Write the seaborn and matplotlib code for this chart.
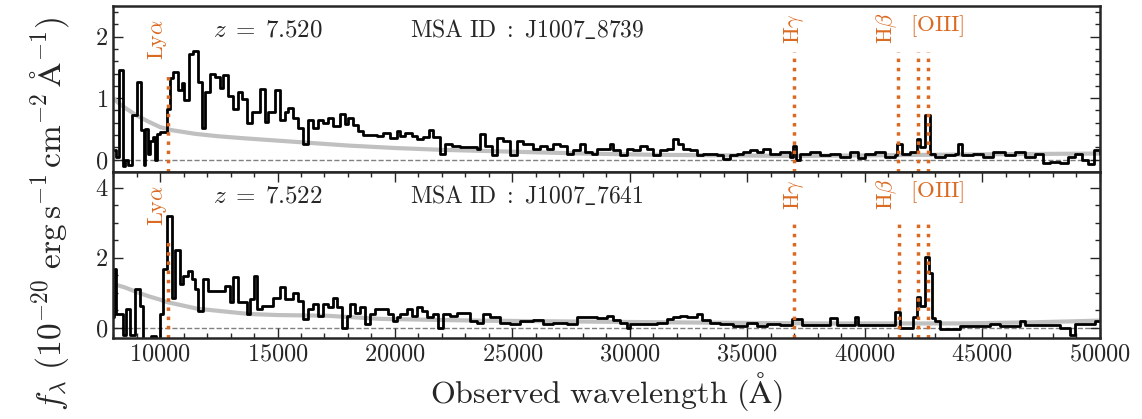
import matplotlib
matplotlib.use('Agg')
from matplotlib import pyplot as plt
from matplotlib.ticker import MultipleLocator
import seaborn as sns
import pandas as pd

# Top spectrum (J1007_8739), left bin edges in Angstrom and flux
top_wave = [8000, 8130, 8250, 8420, 8510, 8640, 8810, 9020, 9190, 9300, 9360, 9490, 9570, 9700, 9790, 9870,
            10000, 10150, 10300, 10420, 10550, 10760, 10940, 11030, 11230, 11400, 11620, 11790, 11910, 12130,
            12340, 12550, 12680, 12890, 13110, 13320, 13490, 13700, 13910, 14260, 14470, 14600, 14890, 15110,
            15320, 15450, 15660, 15870, 16090, 16300, 16510, 16720, 16940, 17150, 17360, 17660, 17870, 18000,
            18210, 18430, 18640, 19230, 19490, 19790, 20090, 20210, 20430, 20720, 20940, 21190, 21450, 21620,
            21920, 22130, 22430, 22770, 23060, 23490, 23620, 23830, 24130, 24340, 24600, 24890, 25190, 25450,
            25870, 26170, 26470, 26720, 27020, 27320, 27570, 27870, 28090, 28380, 28600, 28850, 29150, 29280,
            29570, 29870, 30130, 30430, 30720, 30980, 31280, 31570, 31830, 32040, 32260, 32550, 32850, 33110,
            33400, 33700, 33960, 34260, 34550, 34810, 35110, 35400, 35660, 35960, 36380, 36810, 36940, 37060,
            37230, 37660, 38090, 38510, 38940, 39360, 39700, 40000, 40430, 40850, 41280, 41360, 41570, 41910,
            42210, 42340, 42550, 42770, 42980, 43400, 43830, 43960, 44130, 44600, 45020, 45450, 45960, 46380,
            46810, 47230, 47570, 47870, 48300, 48640, 48940, 49230, 49490, 49750, 50000]
top_flux = [0.15, 0.05, 1.45, -0.1, 0.0, -0.08, 0.73, 1.27, 0.48, -0.08, 0.5, 0.1, 0.3, 0.37, 0.0, 0.42,
            0.45, 0.45, 0.83, 1.32, 1.43, 1.13, 1.24, 0.97, 1.71, 1.77, 1.26, 0.52, 1.1, 1.40,
            1.34, 1.17, 1.37, 1.03, 0.83, 1.1, 0.99, 0.59, 0.77, 1.15, 0.62, 0.77, 1.14, 0.64,
            0.77, 0.84, 0.68, 0.52, 0.26, 0.64, 0.52, 0.64, 0.59, 0.67, 0.54, 0.74, 0.58, 0.67,
            0.56, 0.46, 0.40, 0.38, 0.44, 0.36, 0.46, 0.39, 0.43, 0.39, 0.34, 0.37, 0.49, 0.37,
            0.09, 0.26, 0.23, 0.20, 0.21, 0.18, 0.41, 0.23, 0.08, 0.35, 0.31, 0.08, 0.30, 0.26,
            0.18, 0.22, 0.18, 0.26, 0.23, 0.09, 0.15, 0.26, 0.12, 0.09, 0.18, 0.18, 0.26, 0.15,
            0.07, 0.18, 0.15, 0.23, 0.18, 0.07, 0.15, 0.18, 0.34, 0.26, 0.18, 0.15, 0.07, 0.09,
            0.09, 0.07, 0.01, 0.07, 0.09, 0.13, 0.15, 0.12, 0.18, 0.09, 0.12, 0.05, 0.23, 0.0,
            0.10, 0.12, 0.08, 0.10, 0.05, 0.12, 0.02, 0.10, 0.12, 0.05, 0.07, 0.25, 0.10, 0.12,
            0.33, 0.20, 0.73, 0.10, 0.05, 0.08, 0.10, 0.25, 0.08, 0.10, 0.05, 0.12, 0.08, 0.13,
            0.05, 0.10, -0.05, -0.03, -0.05, 0.05, 0.10, 0.0, -0.07, 0.15, 0.10]
top_err_wave = [8000, 8300, 8600, 9000, 9500, 10000, 10500, 11500, 12500, 13500, 15000, 16500, 18000,
                20000, 22000, 25000, 28000, 31000, 34000, 37000, 40000, 43000, 46000, 50000]
top_err = [1.0, 0.9, 0.82, 0.72, 0.62, 0.53, 0.48, 0.42, 0.38, 0.35, 0.31, 0.27, 0.23,
           0.19, 0.16, 0.13, 0.10, 0.08, 0.07, 0.06, 0.07, 0.08, 0.09, 0.10]

# Bottom spectrum (J1007_7641)
bot_wave = [8000, 8040, 8130, 8430, 8550, 8720, 8940, 9150, 9280, 9620, 9830, 10000, 10130, 10300,
            10510, 10640, 10850, 10980, 11190, 11360, 11490, 11620, 11830, 12040, 12770, 12980, 13110,
            13320, 13700, 13830, 14000, 14130, 14340, 14810, 15110, 15320, 15660, 15870, 16090, 16300,
            16510, 16720, 16940, 17150, 17360, 17530, 17750, 17960, 18090, 18300, 18510, 18720, 18940,
            19150, 19700, 19920, 20090, 20210, 20510, 20720, 20940, 21150, 21360, 21620, 21830, 22040,
            22340, 22640, 22890, 23190, 23490, 23750, 24040, 24470, 24890, 25320, 25870, 26300, 26720,
            27320, 27750, 28000, 28600, 29020, 29280, 29570, 29870, 30000, 30720, 31150, 31570, 31830,
            32130, 32430, 32850, 33060, 33400, 33830, 34380, 34980, 35400, 35830, 36380, 36890, 37320,
            38510, 38810, 39570, 39700, 41280, 41490, 42040, 42210, 42340, 42580, 42720, 42850, 42980,
            43190, 44040, 45320, 45750, 46600, 46810, 48300, 48720, 48940, 49790, 50000]
bot_flux = [0.3, 1.68, 0.38, -0.2, 0.54, -0.2, 1.1, 0.62, -0.4, -0.25, -0.4, 0.39, 1.68, 3.19,
            0.86, 2.21, 1.25, 1.49, 1.63, 1.39, 1.11, 0.48, 1.39, 1.06, 1.2, 0.72, 1.44,
            0.72, 0.39, 0.82, 1.49, 0.53, 0.63, 0.86, 1.17, 0.82, 0.98, 0.77, 0.24, 0.53,
            0.67, 0.34, 0.67, 0.58, 0.86, 0.58, 0.0, 0.34, 0.67, 0.43, 0.58, 0.1, 0.38,
            0.53, 0.38, 0.19, 0.29, 0.39, 0.53, 0.34, 0.58, 0.48, 0.29, 0.39, 0.0, 0.39,
            0.34, 0.43, 0.43, 0.19, 0.14, 0.39, 0.29, 0.14, 0.10, 0.19, 0.21, 0.10, 0.14,
            0.10, 0.29, 0.31, 0.27, 0.34, 0.21, 0.14, 0.0, 0.10, 0.10, 0.12, 0.24, 0.29,
            0.34, 0.29, 0.39, 0.21, 0.12, 0.10, 0.05, 0.14, 0.05, 0.10, 0.08, 0.24, 0.08,
            0.27, 0.08, 0.29, 0.07, 0.45, 0.0, 0.3, 0.87, 0.62, 2.02, 1.55, 0.28, 0.2,
            -0.04, 0.05, 0.1, 0.05, 0.2, 0.07, 0.0, -0.2, 0.1, 0.2, 0.2]
bot_err_wave = [8000, 8500, 9000, 9500, 10000, 10300, 11600, 13800, 15000, 17100, 19400, 23600,
                32000, 38000, 44000, 47000, 50000]
bot_err = [1.25, 1.15, 1.02, 0.9, 0.8, 0.73, 0.54, 0.39, 0.36, 0.34, 0.25, 0.2,
           0.15, 0.12, 0.12, 0.15, 0.2]

redshifts = [7.520, 7.522]
msa_ids = ['J1007\\_8739', 'J1007\\_7641']
line_names = [r'$\mathrm{Ly}\alpha$', r'$\mathrm{H}\gamma$', r'$\mathrm{H}\beta$', None, r'$\mathrm{[OIII]}$']
rest_waves = [1215.67, 4341.68, 4862.68, 4960.30, 5008.24]


def main():
    sns.set_style('ticks')
    plt.rcParams['font.family'] = ['cmr10', 'DejaVu Serif']
    plt.rcParams['mathtext.fontset'] = 'cm'
    plt.rcParams['axes.formatter.use_mathtext'] = True
    plt.rcParams['axes.unicode_minus'] = False

    orange = '#da6a22'
    fig, axes = plt.subplots(2, 1, figsize=(11.42, 4.19), dpi=100, sharex=True)
    fig.subplots_adjust(left=0.099, right=0.963, top=0.986, bottom=0.193, hspace=0)

    panels = [
        (top_wave, top_flux, top_err_wave, top_err, (-0.2, 2.5), 1, 0.2),
        (bot_wave, bot_flux, bot_err_wave, bot_err, (-0.3, 4.45), 2, 0.5),
    ]
    for i, (ax, (w, f, ew, e, ylim, major, minor)) in enumerate(zip(axes, panels)):
        z = redshifts[i]
        spec = pd.DataFrame({'wave': w, 'flux': f})
        err = pd.DataFrame({'wave': ew, 'err': e})

        sns.lineplot(data=err, x='wave', y='err', ax=ax, color='#c0c0c0', linewidth=3,
                     estimator=None, legend=False)
        sns.lineplot(data=spec, x='wave', y='flux', ax=ax, color='black', linewidth=2,
                     estimator=None, drawstyle='steps-post', legend=False)
        ax.axhline(0, color='gray', ls='--', lw=1, zorder=0)

        # emission lines
        trans = ax.get_xaxis_transform()
        for j, rw in enumerate(rest_waves):
            lam = rw * (1 + z)
            top = 0.61 if j == 0 else 0.72
            ax.axvline(lam, ymin=0, ymax=top, color=orange, ls=':', lw=2.5)
        lya = rest_waves[0] * (1 + z)
        ax.text(lya - 480, 0.80, line_names[0], transform=trans, rotation=90, color=orange,
                fontsize=16, ha='center', va='center')
        ax.text(rest_waves[1] * (1 + z), 0.865, line_names[1], transform=trans, rotation=90,
                color=orange, fontsize=16, ha='center', va='center')
        ax.text(rest_waves[2] * (1 + z) - 500, 0.865, line_names[2], transform=trans, rotation=90,
                color=orange, fontsize=16, ha='center', va='center')
        ax.text(rest_waves[4] * (1 + z) + 400, 0.88, line_names[4], transform=trans,
                color=orange, fontsize=16.5, ha='center', va='center')

        ax.text(0.101, 0.855, r'$z\;=\;%.3f$' % z, transform=ax.transAxes, fontsize=18,
                ha='left', va='center')
        ax.text(0.301, 0.855, r'$\mathrm{MSA\ ID\ :\ %s}$' % msa_ids[i], transform=ax.transAxes,
                fontsize=17, ha='left', va='center')

        ax.set_xlim(8000, 50000)
        ax.set_ylim(*ylim)
        ax.yaxis.set_major_locator(MultipleLocator(major))
        ax.yaxis.set_minor_locator(MultipleLocator(minor))
        ax.xaxis.set_major_locator(MultipleLocator(5000))
        ax.xaxis.set_minor_locator(MultipleLocator(1000))
        ax.set_xlabel('')
        ax.set_ylabel('')
        for s in ax.spines.values():
            s.set_linewidth(1.8)
        ax.tick_params(which='both', direction='in', left=True, right=True, labelsize=17.5, width=1)
        ax.tick_params(which='major', length=7)
        ax.tick_params(which='minor', length=3.5)

    axes[0].tick_params(axis='x', which='both', bottom=False, top=False, labelbottom=False)
    axes[1].tick_params(axis='x', which='both', bottom=True, top=True)

    axes[1].set_xlabel(r'$\mathrm{Observed\ wavelength\ (\AA)}$', fontsize=23)
    fig.text(0.043, 0.49,
             r'$f_\lambda\ (10^{-20}\ \mathrm{erg\,s^{-1}\,cm^{-2}\,Å^{-1}})$',
             rotation=90, fontsize=24, ha='center', va='center')

    plt.savefig('out.png', dpi=100)


if __name__ == "__main__":
    main()
